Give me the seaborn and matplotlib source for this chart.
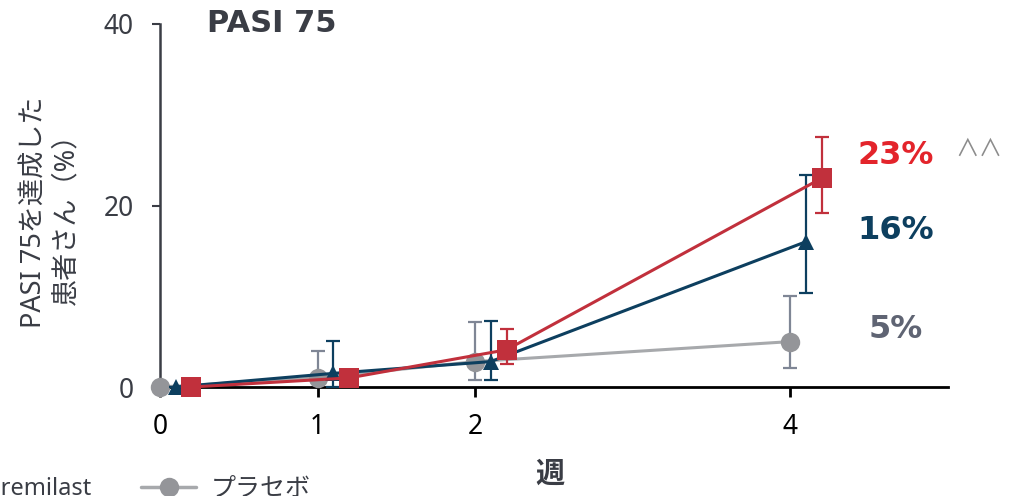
import numpy as np
import pandas as pd
import seaborn as sns
import matplotlib.pyplot as plt
from matplotlib.lines import Line2D

# PASI 75 response rate (%) by week, with lower/upper bounds of the error bars
weeks = [0, 1, 2, 4]
groups = ["プラセボ", "Apremilast 20 mg", "Apremilast 30 mg"]
placebo = [0.0, 1.0, 2.8, 5.0]
placebo_lo = [0.0, 0.0, 0.8, 2.1]
placebo_hi = [0.0, 4.0, 7.2, 10.0]
apr20 = [0.0, 1.5, 2.8, 16.0]
apr20_lo = [0.0, 0.0, 0.8, 10.4]
apr20_hi = [0.0, 5.1, 7.3, 23.4]
apr30 = [0.0, 1.0, 4.1, 23.0]
apr30_lo = [0.0, 0.4, 2.5, 19.2]
apr30_hi = [0.0, 1.8, 6.4, 27.5]
final_labels = ["5%", "16%", "23%"]

y_ticks = [0, 20, 40]
x_ticks = [0, 1, 2, 4]

values = [placebo, apr20, apr30]
lows = [placebo_lo, apr20_lo, apr30_lo]
highs = [placebo_hi, apr20_hi, apr30_hi]

rows = []
for g, v, lo, hi in zip(groups, values, lows, highs):
    for w, val, l, h in zip(weeks, v, lo, hi):
        rows.append({"group": g, "week": w, "value": val, "lo": l, "hi": h})
df = pd.DataFrame(rows)

sns.set_theme(style="white")
plt.rcParams["font.family"] = ["Noto Sans", "Noto Sans CJK JP", "DejaVu Sans"]

TXT = "#3A3D45"
styles = {
    "プラセボ": dict(line="#A7A9AC", marker="#949599", err="#7F8695", m="o", ms=14,
                 dodge=0.0, label="#5F6473", dy=8.5),
    "Apremilast 20 mg": dict(line="#0D3F5F", marker="#0D3F5F", err="#0D3F5F", m="^", ms=12,
                             dodge=0.1, label="#0D3F5F", dy=8),
    "Apremilast 30 mg": dict(line="#C1303C", marker="#C1303C", err="#C1303C", m="s", ms=15,
                             dodge=0.2, label="#E3242B", dy=16.5),
}

fig = plt.figure(figsize=(10.2, 4.96), dpi=100)
ax = fig.add_axes([160 / 1020, 109 / 496, 787.5 / 1020, 363 / 496])

for z, g in enumerate(groups):
    st = styles[g]
    sub = df[df["group"] == g].copy()
    sub["x"] = sub["week"] + st["dodge"]
    yerr = np.vstack([sub["value"] - sub["lo"], sub["hi"] - sub["value"]])
    ax.errorbar(sub["x"], sub["value"], yerr=yerr, fmt="none", ecolor=st["err"],
                elinewidth=1.6, capsize=5, capthick=1.6, zorder=2 + 2 * z, clip_on=False)
    sns.lineplot(data=sub, x="x", y="value", ax=ax, color=st["line"], linewidth=2.2,
                 marker=st["m"], markersize=st["ms"], markerfacecolor=st["marker"],
                 markeredgecolor=st["marker"], markeredgewidth=0, zorder=3 + 2 * z,
                 clip_on=False, legend=False)

# end-of-study percentages
label_x = (896 - 160) / 157.5
for g, txt in zip(groups, final_labels):
    st = styles[g]
    v = df[(df["group"] == g) & (df["week"] == weeks[-1])]["value"].iloc[0]
    ax.annotate(txt, xy=(label_x, v), xytext=(0, st["dy"]), textcoords="offset points",
                ha="center", va="center", fontsize=23, fontweight="bold",
                color=st["label"], family="DejaVu Sans", annotation_clip=False)
ax.text(5.2, 26.2, "∧∧", ha="center", va="center", fontsize=17, color="#8C8C8C",
        family="Noto Sans CJK JP", clip_on=False)

ax.set_xlim(0, 5.0)
ax.set_ylim(0, 40)
ax.set_xticks(x_ticks)
ax.set_xticklabels([str(t) for t in x_ticks])
ax.set_yticks(y_ticks)
ax.set_yticklabels([str(t) for t in y_ticks])
ax.set_xlabel("")
ax.set_ylabel("")

for s in ["top", "right"]:
    ax.spines[s].set_visible(False)
ax.spines["left"].set_color(TXT)
ax.spines["left"].set_linewidth(1.8)
ax.spines["bottom"].set_color("black")
ax.spines["bottom"].set_linewidth(2.0)
ax.tick_params(axis="y", length=6, width=1.5, color=TXT, pad=13, labelsize=19,
               labelcolor=TXT, left=True)
ax.tick_params(axis="x", length=7, width=2, color="black", pad=12, labelsize=19,
               labelcolor="black", bottom=True)

fig.text(272 / 1020, 1 - 23 / 496, "PASI 75", ha="center", va="center", fontsize=22,
         fontweight="bold", color=TXT, family="DejaVu Sans")
fig.text(50 / 1020, 1 - 212 / 496, "PASI 75を達成した\n患者さん（%）", rotation=90,
         ha="center", va="center", multialignment="center", fontsize=19.5,
         color=TXT, linespacing=1.2)
fig.text(550 / 1020, 1 - 474 / 496, "週", ha="center", va="center", fontsize=21,
         fontweight="bold", color=TXT, family="Noto Sans CJK JP")

# legend row along the bottom edge
fig.text(91 / 1020, 1 - 489 / 496, "Apremilast", ha="right", va="center",
         fontsize=17, color=TXT)
handle = Line2D([], [], color=styles["プラセボ"]["line"], linewidth=2.5, marker="o",
                markersize=14, markerfacecolor=styles["プラセボ"]["marker"],
                markeredgewidth=0)
fig.legend([handle], [groups[0]], loc="center left",
           bbox_to_anchor=(141 / 1020, 1 - 489 / 496), frameon=False, fontsize=17,
           borderpad=0, borderaxespad=0, handlelength=2.2, handletextpad=0.6,
           labelcolor=TXT, prop={"family": ["Noto Sans CJK JP"], "size": 18})

fig.savefig("out.png", dpi=100)
